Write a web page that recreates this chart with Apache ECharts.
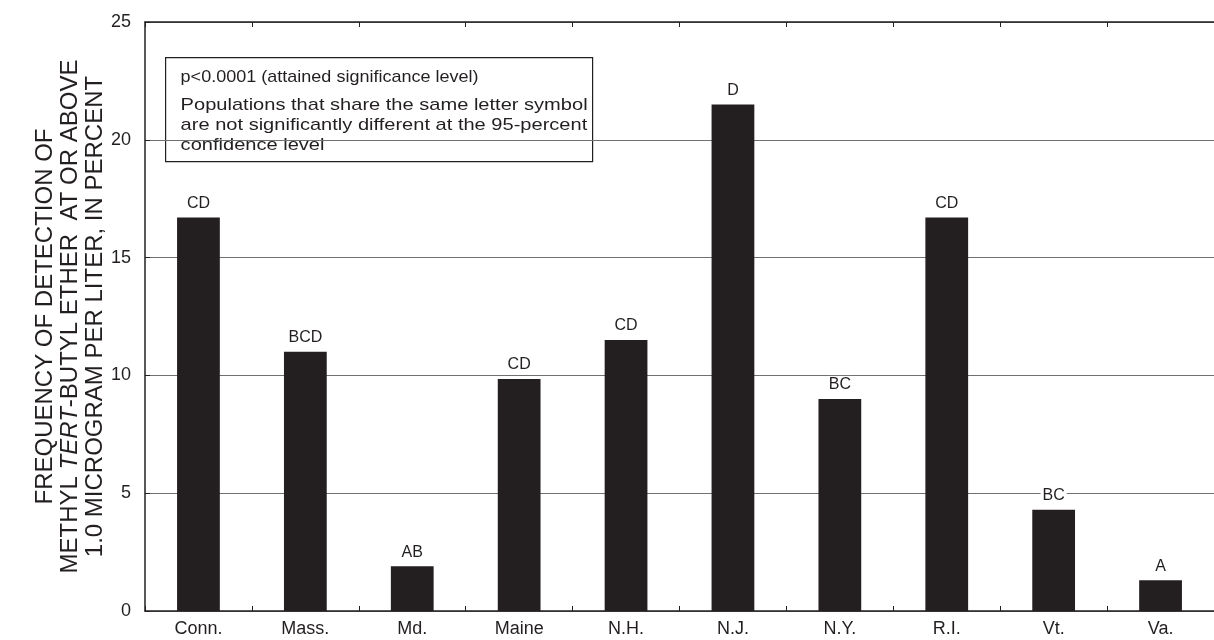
<!DOCTYPE html>
<html>
<head>
<meta charset="utf-8">
<script src="https://cdn.jsdelivr.net/npm/echarts@6/dist/echarts.min.js"></script>
<style>
html,body{margin:0;padding:0;background:#fff;}
#chart{width:1214px;height:640px;}
</style>
</head>
<body>
<div id="chart"></div>
<script>
var states = ['Conn.', 'Mass.', 'Md.', 'Maine', 'N.H.', 'N.J.', 'N.Y.', 'R.I.', 'Vt.', 'Va.'];
var frequency = [16.7, 11.0, 1.9, 9.85, 11.5, 21.5, 9.0, 16.7, 4.3, 1.3];
var groups = ['CD', 'BCD', 'AB', 'CD', 'CD', 'D', 'BC', 'CD', 'BC', 'A'];
var yTicks = [0, 5, 10, 15, 20, 25];
var noteLine1 = 'p<0.0001 (attained significance level)';
var noteLines = ['Populations that share the same letter symbol',
                 'are not significantly different at the 95-percent',
                 'confidence level'];

var FONT = "'Liberation Sans', Arial, Helvetica, sans-serif";
var INK = '#231f20';

var chart = echarts.init(document.getElementById('chart'), null, {renderer: 'canvas'});

var option = {
  animation: false,
  backgroundColor: '#fff',
  textStyle: {fontFamily: FONT, color: INK},
  grid: {left: 145, right: -4, top: 22, bottom: 29, containLabel: false},
  xAxis: [{
    type: 'category',
    data: states,
    position: 'bottom',
    axisLine: {show: true, lineStyle: {color: INK, width: 1.5}},
    axisTick: {show: true, inside: true, length: 5, alignWithLabel: false, lineStyle: {color: INK}},
    axisLabel: {fontFamily: FONT, fontSize: 18, color: INK, margin: 9},
    splitLine: {show: false}
  }, {
    type: 'category',
    data: states,
    position: 'top',
    axisLine: {show: true, lineStyle: {color: INK, width: 1.5}},
    axisTick: {show: true, inside: true, length: 5, lineStyle: {color: INK}},
    axisLabel: {show: false},
    splitLine: {show: false}
  }],
  yAxis: {
    type: 'value',
    min: 0,
    max: 25,
    interval: 5,
    axisLine: {show: true, lineStyle: {color: INK, width: 1.5}},
    axisTick: {show: true, inside: true, length: 5, lineStyle: {color: INK}},
    axisLabel: {
      fontFamily: FONT, fontSize: 18, color: INK, margin: 14,
      formatter: function (v) { return yTicks.indexOf(v) >= 0 ? String(v) : ''; }
    },
    splitLine: {show: true, lineStyle: {color: '#707070', width: 1.2}},
    name: 'FREQUENCY OF DETECTION OF\nMETHYL {i|TERT}-BUTYL ETHER  AT OR ABOVE\n1.0 MICROGRAM PER LITER, IN PERCENT',
    nameLocation: 'middle',
    nameGap: 37,
    nameMoveOverlap: false,
    nameTextStyle: {
      fontFamily: FONT, fontSize: 24, color: INK, lineHeight: 25, align: 'center',
      rich: {i: {fontFamily: FONT, fontSize: 24, fontStyle: 'italic', color: INK, lineHeight: 25}}
    }
  },
  series: [{
    type: 'bar',
    data: frequency,
    xAxisIndex: 0,
    barWidth: '40%',
    itemStyle: {color: INK},
    z: 3,
    label: {
      show: true,
      position: 'top',
      distance: 5,
      fontFamily: FONT,
      fontSize: 16,
      color: INK,
      backgroundColor: '#fff',
      padding: [1, 2],
      formatter: function (p) { return groups[p.dataIndex]; }
    }
  }],
  graphic: [{
    type: 'group',
    left: 165,
    top: 57,
    z: 10,
    children: [{
      type: 'rect',
      shape: {x: 0, y: 0, width: 427, height: 104},
      style: {fill: '#fff', stroke: INK, lineWidth: 1.2}
    }, {
      type: 'text',
      x: 15, y: 11, scaleX: 1.06,
      style: {text: noteLine1, fontFamily: FONT, fontSize: 17, fill: INK}
    }, {
      type: 'text',
      x: 15, y: 38, scaleX: 1.18,
      style: {text: noteLines.join('\n'), fontFamily: FONT, fontSize: 17, lineHeight: 20, fill: INK}
    }]
  }]
};
chart.setOption(option);
</script>
</body>
</html>
